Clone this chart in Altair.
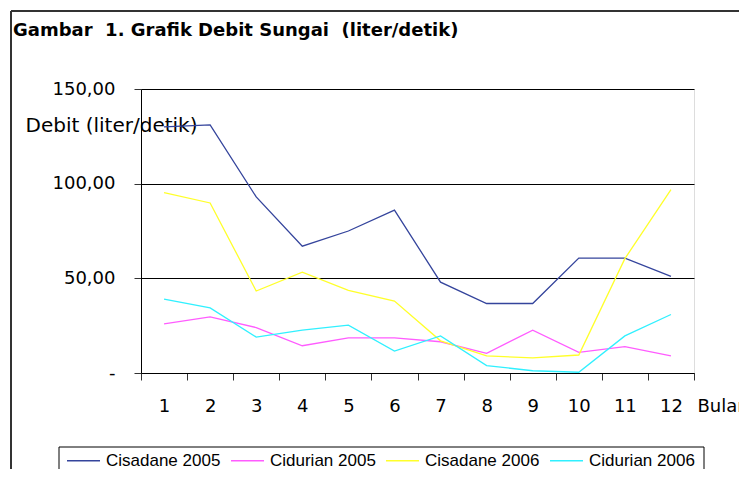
import altair as alt
import pandas as pd

months = [1, 2, 3, 4, 5, 6, 7, 8, 9, 10, 11, 12]
series_names = ["Cisadane 2005", "Cidurian 2005", "Cisadane 2006", "Cidurian 2006"]
cisadane_2005 = [130, 131, 93, 67, 75, 86, 48, 36.7, 36.7, 60.7, 60.7, 51]
cidurian_2005 = [26, 29.6, 24, 14.4, 18.6, 18.6, 16.5, 10.4, 22.6, 10.9, 13.9, 9]
cisadane_2006 = [95.3, 89.8, 43.3, 53.3, 43.7, 38, 17, 9, 8, 9.5, 60.4, 96.8]
cidurian_2006 = [39, 34.4, 19, 22.6, 25.3, 11.6, 19.6, 3.9, 1.2, 0.4, 19.6, 30.9]
colors = ["#34449c", "#ff5cff", "#ffff2a", "#30f0ff"]
y_ticks = [0, 50, 100, 150]

rows = []
for name, vals in zip(series_names, [cisadane_2005, cidurian_2005, cisadane_2006, cidurian_2006]):
    for m, v in zip(months, vals):
        rows.append({"Bulan": m, "Debit": v, "Seri": name})
df = pd.DataFrame(rows)

W, H = 553, 284

lines = alt.Chart(df).mark_line(strokeWidth=1.3).encode(
    x=alt.X("Bulan:O",
            scale=alt.Scale(type="band", paddingInner=0, paddingOuter=0),
            axis=alt.Axis(title="Bulan", titleX=556, titleY=33, titleAngle=0,
                          titleAlign="left", titleBaseline="middle",
                          titleFont="DejaVu Sans", titleFontSize=18, titleFontWeight="normal",
                          titleColor="black",
                          labelAngle=0, labelFont="DejaVu Sans", labelFontSize=18,
                          labelColor="black", labelBaseline="middle", labelPadding=26,
                          tickBand="extent", tickSize=7, tickColor="#333", domainColor="black",
                          grid=False)),
    y=alt.Y("Debit:Q",
            scale=alt.Scale(domain=[0, 150], nice=False),
            axis=alt.Axis(values=y_ticks,
                          labelExpr="datum.value == 0 ? '-' : replace(format(datum.value, '.2f'), '.', ',')",
                          title="Debit (liter/detik)", titleAngle=0, titleX=-116, titleY=36,
                          titleAlign="left", titleBaseline="middle",
                          titleFont="DejaVu Sans", titleFontSize=20, titleFontWeight="normal",
                          titleColor="black",
                          labelFont="DejaVu Sans", labelFontSize=18, labelColor="black",
                          labelPadding=19, tickSize=7, tickColor="#333", domainColor="black",
                          grid=True, gridColor="black", gridOpacity=1, gridWidth=1)),
    color=alt.Color("Seri:N",
                    scale=alt.Scale(domain=series_names, range=colors),
                    legend=alt.Legend(title=None, orient="none", direction="horizontal",
                                      legendX=-75, legendY=354,
                                      symbolType="stroke", symbolSize=1089,
                                      symbolStrokeWidth=1.5,
                                      labelFont="Liberation Sans", labelFontSize=17,
                                      labelColor="black", labelOffset=5,
                                      columnPadding=7, padding=0)),
)

title_df = pd.DataFrame({"t": ["Gambar\u00a0 1. Grafik Debit Sungai\u00a0 (liter/detik)"]})
title = alt.Chart(title_df).mark_text(
    align="left", baseline="middle", font="DejaVu Sans", fontSize=18,
    fontWeight="bold", color="black"
).encode(text="t:N", x=alt.value(-128), y=alt.value(-58))

frame_df = pd.DataFrame({"k": [0]})
frame_top = alt.Chart(frame_df).mark_rule(color="#333", strokeWidth=2).encode(
    x=alt.value(-130), x2=alt.value(620), y=alt.value(-78))
frame_left = alt.Chart(frame_df).mark_rule(color="#333", strokeWidth=2).encode(
    x=alt.value(-130), y=alt.value(-78), y2=alt.value(420))

box_top = alt.Chart(frame_df).mark_rule(color="black", strokeWidth=1).encode(
    x=alt.value(-82), x2=alt.value(563), y=alt.value(358))
box_left = alt.Chart(frame_df).mark_rule(color="black", strokeWidth=1).encode(
    x=alt.value(-82), y=alt.value(358), y2=alt.value(420))
box_right = alt.Chart(frame_df).mark_rule(color="black", strokeWidth=1).encode(
    x=alt.value(563), y=alt.value(358), y2=alt.value(420))

chart = alt.layer(frame_top, frame_left, box_top, box_left, box_right, lines, title).properties(
    width=W, height=H,
    autosize=alt.AutoSizeParams(type="none"),
    padding={"left": 133, "top": 81, "right": 45, "bottom": 96},
).configure_view(stroke="black", strokeWidth=1).configure(background="white")

chart.save("out.html", embed_options={"renderer": "svg", "actions": False})
